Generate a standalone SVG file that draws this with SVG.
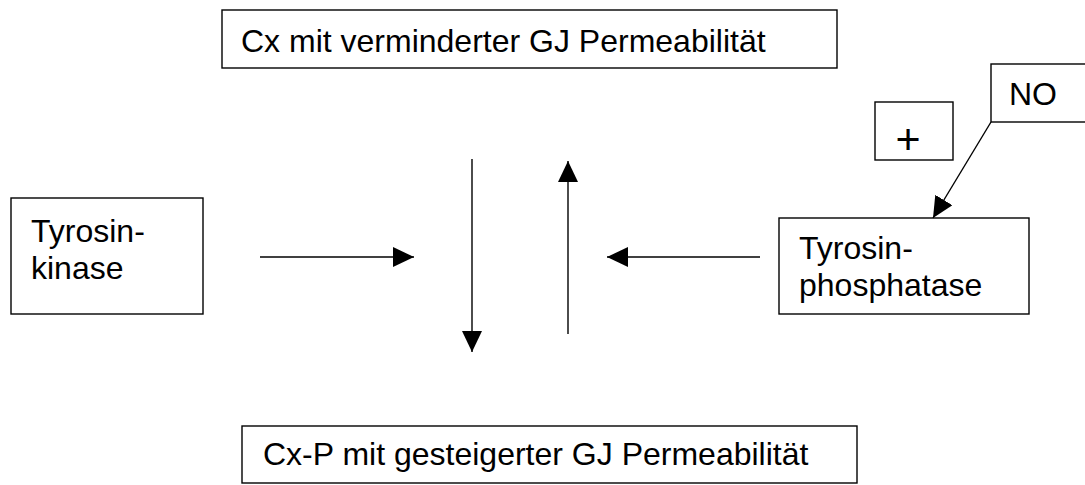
<svg xmlns="http://www.w3.org/2000/svg" width="1085" height="485" viewBox="0 0 1085 485">
<style>
.box{fill:#fff;stroke:#000;stroke-width:1.4}
.t{font-family:"Liberation Sans",Arial,sans-serif;font-size:32px;fill:#000}
.c{stroke:#000;stroke-width:1.4;fill:none}
</style>
<defs>
<marker id="ah" markerUnits="userSpaceOnUse" markerWidth="22" markerHeight="21" refX="21" refY="10" orient="auto">
<path d="M0,0 L21,10 L0,20 Z" fill="#000"/>
</marker>
</defs>
<rect width="1085" height="485" fill="#fff"/>
<g id="top">
<rect class="box" x="222" y="10" width="615" height="58"/>
<text class="t" x="241" y="52">Cx mit verminderter GJ Permeabilität</text>
</g>
<g id="bottom">
<rect class="box" x="242" y="426" width="615" height="57"/>
<text class="t" x="263" y="465">Cx-P mit gesteigerter GJ Permeabilität</text>
</g>
<g id="kinase">
<rect class="box" x="11" y="198" width="192" height="116"/>
<text class="t" x="31" y="242">Tyrosin-</text>
<text class="t" x="31" y="279">kinase</text>
</g>
<g id="phosphatase">
<rect class="box" x="779" y="218" width="250" height="96"/>
<text class="t" x="799" y="259">Tyrosin-</text>
<text class="t" x="799" y="296">phosphatase</text>
</g>
<g id="plus">
<rect class="box" x="875" y="102" width="78" height="58"/>
<text class="t" x="908" y="154" text-anchor="middle" style="font-size:43px">+</text>
</g>
<g id="no">
<rect class="box" x="991" y="64" width="110" height="58"/>
<text class="t" x="1009" y="105">NO</text>
</g>
<g id="connectors">
<line class="c" x1="260" y1="257" x2="414" y2="257" marker-end="url(#ah)"/>
<line class="c" x1="760" y1="257" x2="607" y2="257" marker-end="url(#ah)"/>
<line class="c" x1="472" y1="159" x2="472" y2="352" marker-end="url(#ah)"/>
<line class="c" x1="568" y1="334" x2="568" y2="161" marker-end="url(#ah)"/>
<line class="c" x1="991" y1="122" x2="933" y2="218" marker-end="url(#ah)"/>
</g>
</svg>
